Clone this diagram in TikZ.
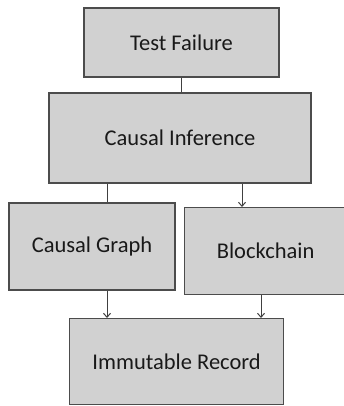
\documentclass[tikz,border=0pt]{standalone}
\usepackage{fontspec}
\setmainfont{Carlito}
\usetikzlibrary{arrows.meta}
\begin{document}
\begin{tikzpicture}[x=1pt,y=-1pt,
  box/.style={draw=black!70,line width=1.2pt,fill=black!18,font=\fontsize{22.5}{26}\selectfont,text=black!90},
  link/.style={draw=black!75,line width=1pt},
  arr/.style={link,-{Straight Barb[length=4pt,width=7pt]}}]
\useasboundingbox (0,0) rectangle (344,406);
\node[box,minimum width=195pt,minimum height=69pt] (tf) at (181.5,42.5) {Test Failure};
\node[box,minimum width=262pt,minimum height=90pt] (ci) at (180,138) {Causal Inference};
\node[box,minimum width=166pt,minimum height=87pt] (cg) at (92,246.5) {Causal Graph};
\node[box,minimum width=162pt,minimum height=87pt,anchor=north west] (bc) at (184,207) {Blockchain};
\node[box,minimum width=214pt,minimum height=86pt,anchor=north west] (ir) at (69,318) {Immutable Record};
\draw[link] (tf.south) -- (tf.south |- ci.north);
\draw[link] (ci.south -| 107,0) -- (cg.north -| 107,0);
\draw[arr] (ci.south -| 242,0) -- (bc.north -| 242,0);
\draw[arr] (cg.south -| 107,0) -- (ir.north -| 107,0);
\draw[arr] (bc.south -| 261,0) -- (ir.north -| 261,0);
\end{tikzpicture}
\end{document}
